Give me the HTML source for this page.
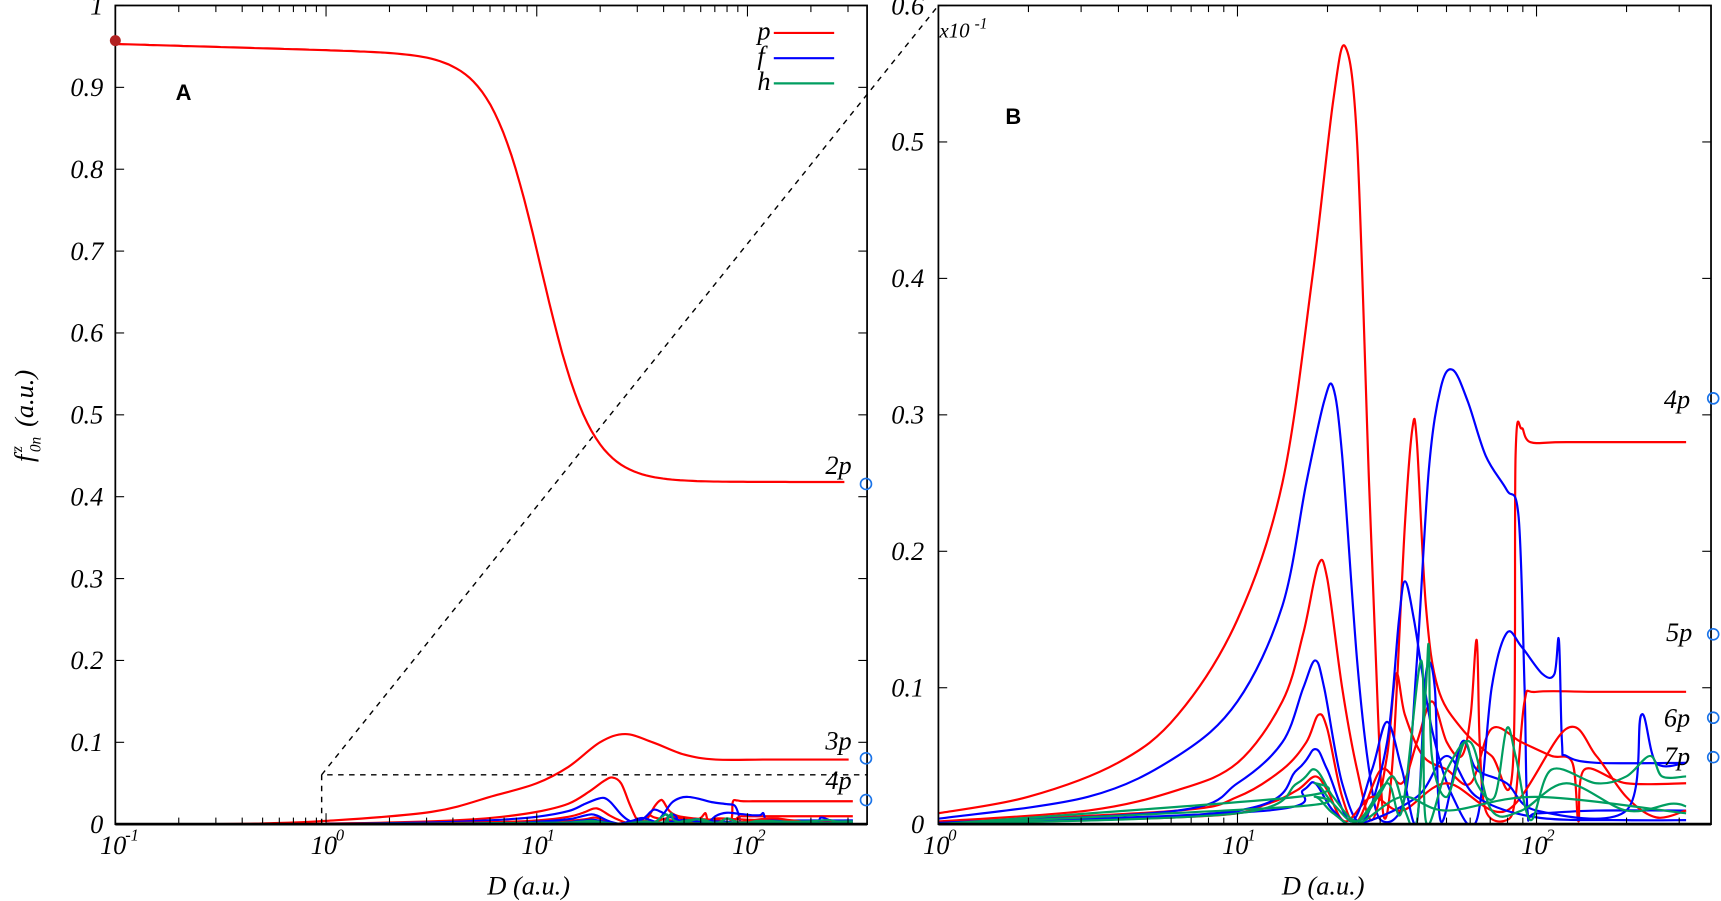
<!DOCTYPE html>
<html><head><meta charset="utf-8"><style>
html,body{margin:0;padding:0;background:#fff;}
svg{display:block;}
text{font-family:"Liberation Serif",serif;font-style:italic;fill:#000;}
</style></head><body>
<svg id="s" width="1721" height="901" viewBox="0 0 1568 821" xmlns="http://www.w3.org/2000/svg">
<defs>
<clipPath id="cA"><rect x="105" y="5" width="685" height="746"/></clipPath>
<clipPath id="cB"><rect x="855" y="5" width="704" height="746"/></clipPath>
</defs>
<g id="gA" clip-path="url(#cA)"></g>
<g id="gB" clip-path="url(#cB)"></g>
<g id="ax"></g>
</svg>
<script>
const NS="http://www.w3.org/2000/svg";
function el(p,t,a,txt){const e=document.createElementNS(NS,t);for(const k in a)e.setAttribute(k,a[k]);if(txt!==undefined)e.textContent=txt;p.appendChild(e);return e;}
const gA=document.getElementById('gA'),gB=document.getElementById('gB'),ax=document.getElementById('ax');
const xA=L=>105+(L+1)*192, yA=v=>751-v*746;
const xB=L=>855+L*272.5, yB=v=>751-v*10*1243.3;
function cr(pts){
  let d='M'+pts[0][0].toFixed(1)+','+pts[0][1].toFixed(1);
  for(let i=0;i<pts.length-1;i++){
    const p0=pts[Math.max(0,i-1)],p1=pts[i],p2=pts[i+1],p3=pts[Math.min(pts.length-1,i+2)];
    const c1=[p1[0]+(p2[0]-p0[0])/6,p1[1]+(p2[1]-p0[1])/6];
    const c2=[p2[0]-(p3[0]-p1[0])/6,p2[1]-(p3[1]-p1[1])/6];
    d+='C'+c1[0].toFixed(1)+','+c1[1].toFixed(1)+' '+c2[0].toFixed(1)+','+c2[1].toFixed(1)+' '+p2[0].toFixed(1)+','+p2[1].toFixed(1);
  }
  return d;
}
const RED='#ff0000',BLUE='#0000ff',GREEN='#009e60',SW=2;
const S=[
[RED,[[0,.008],[.3,.02],[.6,.045],[.8,.08],[1,.15],[1.15,.25],[1.25,.4],[1.32,.53],[1.36,.57],[1.4,.5],[1.44,.25],[1.47,.08],[1.49,.005],[1.52,.05],[1.56,.22],[1.585,.29],[1.6,.28],[1.63,.16],[1.67,.1],[1.75,.07],[1.85,.05],[1.92,.04],[1.93,.27],[1.95,.29],[1.98,.28],[2.1,.28],[2.5,.28]]],
[BLUE,[[0,.004],[.5,.02],[.8,.05],[1,.09],[1.15,.16],[1.23,.25],[1.29,.31],[1.32,.32],[1.35,.27],[1.4,.12],[1.44,.04],[1.48,.003],[1.56,.02],[1.6,.12],[1.64,.26],[1.68,.32],[1.72,.333],[1.77,.31],[1.83,.27],[1.9,.245],[1.94,.225],[1.96,.1],[1.97,.01],[2.0,.008],[2.2,.01],[2.5,.01]]],
[RED,[[0,.002],[.5,.01],[.8,.025],[1,.045],[1.15,.09],[1.22,.14],[1.27,.19],[1.3,.18],[1.35,.1],[1.4,.04],[1.45,.003],[1.5,.05],[1.53,.11],[1.56,.08],[1.62,.05],[1.7,.04],[1.78,.03],[1.85,.07],[1.95,.06],[2.05,.05],[2.12,.045],[2.14,.002],[2.16,.04],[2.3,.03],[2.5,.03]]],
[RED,[[0,.001],[.8,.01],[1,.02],[1.15,.04],[1.23,.06],[1.27,.08],[1.3,.07],[1.35,.02],[1.4,.002],[1.48,.04],[1.55,.03],[1.6,.06],[1.65,.09],[1.7,.06],[1.75,.05],[1.78,.08],[1.8,.135],[1.81,.06],[1.83,.01],[1.9,.003],[1.93,.02],[1.96,.09],[2.0,.097],[2.2,.097],[2.5,.097]]],
[BLUE,[[0,.001],[.8,.01],[1,.03],[1.15,.06],[1.22,.1],[1.26,.12],[1.29,.1],[1.35,.03],[1.42,.002],[1.5,.06],[1.54,.15],[1.56,.178],[1.59,.15],[1.65,.07],[1.72,.02],[1.8,.003],[1.85,.1],[1.9,.14],[1.95,.13],[2.02,.11],[2.06,.11],[2.075,.135],[2.085,.06],[2.1,.05],[2.2,.045],[2.5,.045]]],
[RED,[[0,0],[.9,.006],[1.1,.015],[1.2,.025],[1.26,.035],[1.3,.025],[1.36,.002],[1.45,.02],[1.55,.01],[1.7,.03],[1.9,.01],[2.1,.07],[2.2,.05],[2.3,.02],[2.4,.005],[2.5,.01]]],
[BLUE,[[0,0],[1,.01],[1.2,.04],[1.26,.055],[1.3,.04],[1.38,.002],[1.45,.04],[1.5,.075],[1.55,.04],[1.6,.002],[1.63,.11],[1.66,.1],[1.68,.002],[1.75,.06],[1.8,.04],[1.9,.03],[2.0,.01],[2.3,.01],[2.35,.08],[2.4,.045],[2.5,.045]]],
[BLUE,[[0,0],[1.1,.01],[1.22,.025],[1.26,.03],[1.32,.01],[1.4,0],[1.6,.02],[1.7,.05],[1.8,.02],[2.0,.005],[2.3,.003],[2.5,.003]]],
[GREEN,[[0,0],[1,.008],[1.2,.03],[1.26,.04],[1.32,.02],[1.4,.002],[1.47,.02],[1.52,.035],[1.56,.01],[1.6,.002],[1.63,.1],[1.64,.13],[1.65,.05],[1.7,.02],[1.76,.06],[1.8,.03],[1.86,.02],[1.9,.07],[1.93,.05],[1.98,.003],[2.05,.04],[2.2,.03],[2.3,.035],[2.38,.05],[2.42,.035],[2.5,.035]]],
[GREEN,[[0,0],[1.2,.02],[1.26,.03],[1.32,.015],[1.4,.002],[1.5,.03],[1.55,.01],[1.615,.12],[1.63,.002],[1.7,.04],[1.78,.06],[1.85,.01],[1.95,.01],[2.1,.03],[2.3,.01],[2.45,.015],[2.5,.013]]],
[GREEN,[[0,0],[1.2,.013],[1.26,.02],[1.32,.008],[1.4,0],[1.55,.02],[1.7,.01],[2.0,.02],[2.5,.008]]]
];
for(const [c,p] of S){
  el(gB,'path',{d:cr(p.map(q=>[xB(q[0]),yB(q[1]/10)])),fill:'none',stroke:c,'stroke-width':SW});
  el(gA,'path',{d:cr(p.map(q=>[xA(q[0]),yA(q[1]/10)])),fill:'none',stroke:c,'stroke-width':SW});
}
let m=[];for(let L=-1;L<=2.48;L+=0.02){m.push([xA(L),yA(0.418+0.535/(1+Math.exp((L-1.02)/0.12))-0.012*Math.max(0,Math.min(1,(L+1)/1.6))/(1+Math.exp((L-1.02)/0.12)))]);}
el(gA,'path',{d:'M'+m.map(p=>p[0].toFixed(1)+','+p[1].toFixed(1)).join('L'),fill:'none',stroke:RED,'stroke-width':SW});
const p3=[[-0.6,0],[-.3,.001],[0,.004],[.5,.015],[.8,.035],[1,.05],[1.15,.07],[1.3,.1],[1.42,.11],[1.55,.1],[1.7,.085],[1.85,.079],[2.1,.079],[2.48,.079]];
el(gA,'path',{d:cr(p3.map(q=>[xA(q[0]),yA(q[1])])),fill:'none',stroke:RED,'stroke-width':SW});
function frame(x0,x1){el(ax,'rect',{x:x0,y:5,width:x1-x0,height:746,fill:'none',stroke:'#000','stroke-width':1.6});}
frame(105,790);frame(855,1559);
el(ax,'line',{x1:105,y1:751,x2:790,y2:751,stroke:'#000','stroke-width':2.5});
el(ax,'line',{x1:855,y1:751,x2:1559,y2:751,stroke:'#000','stroke-width':2.5});
const fs=24;
for(let i=0;i<=10;i++){const y=751-i*74.6;
  el(ax,'line',{x1:105,y1:y,x2:113,y2:y,stroke:'#000'});el(ax,'line',{x1:782,y1:y,x2:790,y2:y,stroke:'#000'});
  el(ax,'text',{x:94,y:y+8,'text-anchor':'end','font-size':fs},i==0?'0':i==10?'1':(i/10).toFixed(1));}
for(let i=0;i<=6;i++){const y=751-i*124.33;
  el(ax,'line',{x1:855,y1:y,x2:863,y2:y,stroke:'#000'});el(ax,'line',{x1:1551,y1:y,x2:1559,y2:y,stroke:'#000'});
  el(ax,'text',{x:842,y:y+8,'text-anchor':'end','font-size':fs},i==0?'0':(i/10).toFixed(1));}
function xt(x,e){el(ax,'text',{x:x-14,y:778,'font-size':fs},'10');el(ax,'text',{x:x+9,y:766,'font-size':15},e);}
for(let d=-1;d<=2;d++){const x=xA(d);xt(x,String(d));
  el(ax,'line',{x1:x,y1:751,x2:x,y2:741,stroke:'#000'});el(ax,'line',{x1:x,y1:5,x2:x,y2:15,stroke:'#000'});
  for(let k=2;k<=9;k++){const xx=xA(d+Math.log10(k));if(xx<790){el(ax,'line',{x1:xx,y1:751,x2:xx,y2:745,stroke:'#000'});el(ax,'line',{x1:xx,y1:5,x2:xx,y2:11,stroke:'#000'});}}}
for(let d=0;d<=2;d++){const x=xB(d);xt(x,String(d));
  el(ax,'line',{x1:x,y1:751,x2:x,y2:741,stroke:'#000'});el(ax,'line',{x1:x,y1:5,x2:x,y2:15,stroke:'#000'});
  for(let k=2;k<=9;k++){const xx=xB(d+Math.log10(k));if(xx<1559){el(ax,'line',{x1:xx,y1:751,x2:xx,y2:745,stroke:'#000'});el(ax,'line',{x1:xx,y1:5,x2:xx,y2:11,stroke:'#000'});}}}
el(ax,'text',{x:444,y:815,'font-size':fs},'D (a.u.)');
el(ax,'text',{x:1168,y:815,'font-size':fs},'D (a.u.)');
const yl=el(ax,'g',{transform:'translate(30,375) rotate(-90)'});
el(yl,'text',{x:-46,y:0,'font-size':fs},'f');
el(yl,'text',{x:-37,y:-10,'font-size':14},'z');
el(yl,'text',{x:-37,y:7,'font-size':14},'0n');
el(yl,'text',{x:-14,y:0,'font-size':fs},'(a.u.)');
el(ax,'path',{d:'M293,751 L293,706 L790,706 M293,706 L855,5',fill:'none',stroke:'#000','stroke-width':1.3,'stroke-dasharray':'5,5'});
[['p',RED,30],['f',BLUE,53],['h',GREEN,76]].forEach(([t,c,y])=>{el(ax,'text',{x:690,y:y+6,'font-size':fs},t);el(ax,'line',{x1:705,y1:y,x2:760,y2:y,stroke:c,'stroke-width':SW});});
el(ax,'text',{x:160,y:91,'font-size':20,'font-weight':'bold',style:'font-style:normal;font-family:Liberation Sans,sans-serif'},'A');
el(ax,'text',{x:916,y:113,'font-size':20,'font-weight':'bold',style:'font-style:normal;font-family:Liberation Sans,sans-serif'},'B');
el(ax,'text',{x:856,y:34,'font-size':19},'x10');el(ax,'text',{x:888,y:26,'font-size':14},'-1');
el(ax,'circle',{cx:105,cy:37,r:5,fill:'#b22222'});
[['2p',752,432,441],['3p',752,683,691],['4p',752,719,729]].forEach(([t,x,y,cy])=>{el(ax,'text',{x:x,y:y,'font-size':fs},t);el(ax,'circle',{cx:789,cy:cy,r:5,fill:'none',stroke:'#1a73e8','stroke-width':1.5});});
[['4p',1516,372,363],['5p',1518,584,578],['6p',1516,662,654],['7p',1516,697,690]].forEach(([t,x,y,cy])=>{el(ax,'text',{x:x,y:y,'font-size':fs},t);el(ax,'circle',{cx:1561,cy:cy,r:5,fill:'none',stroke:'#1a73e8','stroke-width':1.5});});
</script>
</body></html>
